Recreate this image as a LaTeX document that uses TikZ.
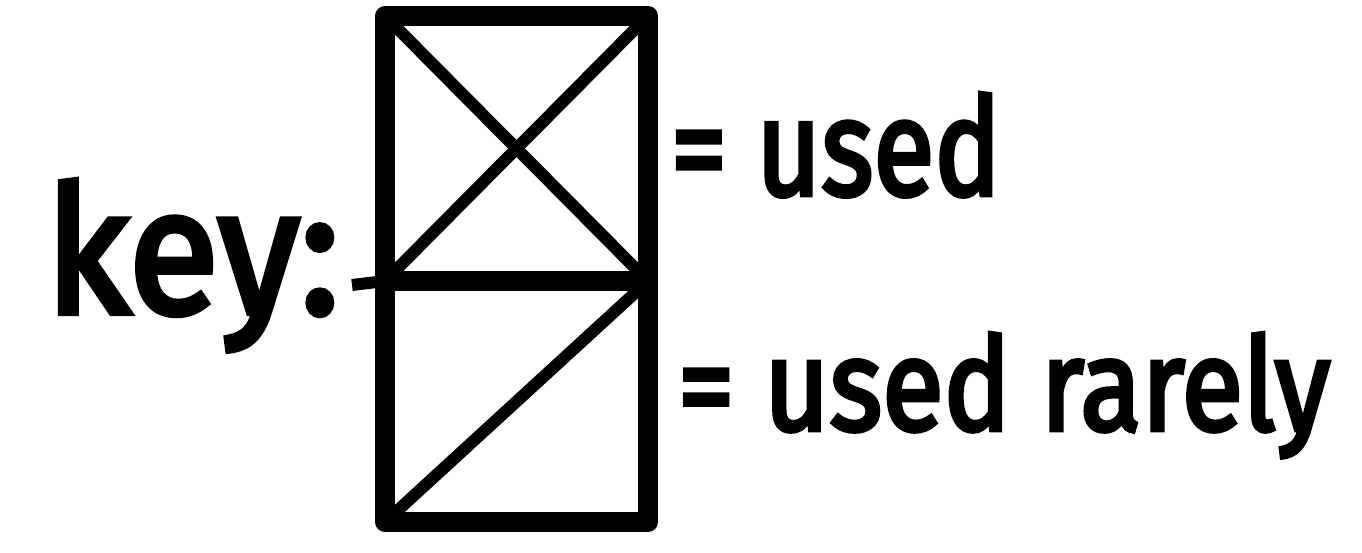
\documentclass[tikz,border=0pt]{standalone}
\usepackage{fontspec}
\setmainfont{Fira Sans}[BoldFont={Fira Sans},BoldFeatures={FakeBold=3.5}]
\usepackage{graphicx}
\begin{document}
\begin{tikzpicture}[x=0.02cm,y=-0.02cm,
  frame/.style={line width=0.4cm,line cap=round,line join=round},
  diag/.style={line width=0.24cm,line cap=round},
  lbl/.style={inner sep=0pt,outer sep=0pt,anchor=base west},
  link/.style={line width=0.24cm}]
\useasboundingbox (0,0) rectangle (1362,552);
% corners of the key box
\coordinate (tl) at (385,16);
\coordinate (tr) at (648,16);
\coordinate (ml) at (385,281);
\coordinate (mr) at (648,281);
\coordinate (bl) at (385,522);
\coordinate (br) at (648,522);
\draw[frame] (tl) -- (tr) -- (br) -- (bl) -- cycle;
\draw[frame] (ml) -- (mr);
\draw[diag] (tl) -- (mr);
\draw[diag] (tr) -- (ml);
\draw[diag] (bl) -- (mr);
% labels
\node[lbl] (key) at (45,313) {\resizebox{5.9cm}{2.66cm}{\bfseries key:}};
\coordinate (keyend) at (352,285);
\draw[link] (keyend) -- (ml);
\node[lbl] (used) at (671,195) {\resizebox{6.6cm}{2.04cm}{\bfseries = used}};
\node[lbl] (rare) at (678,430) {\resizebox{13.04cm}{1.94cm}{\bfseries = used rarely}};
\end{tikzpicture}
\end{document}
